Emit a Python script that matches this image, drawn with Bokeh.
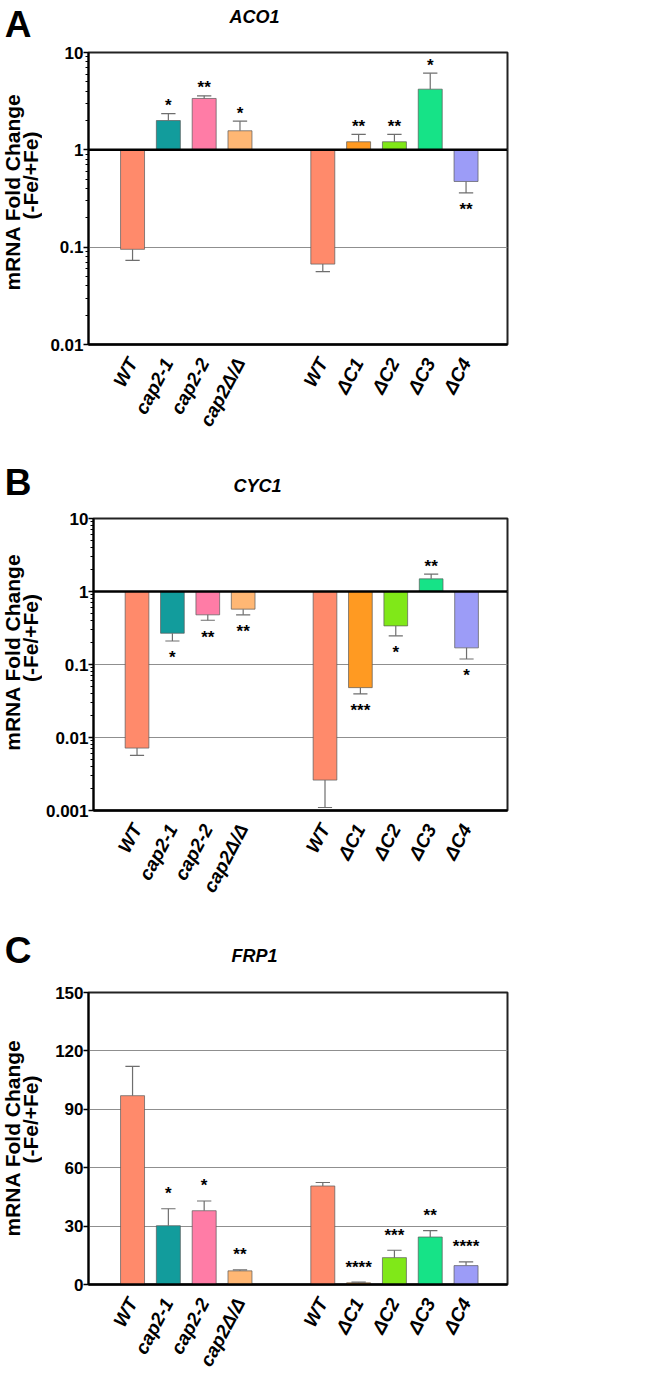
import math
from bokeh.plotting import figure
from bokeh.models import FixedTicker, NumeralTickFormatter, Span
from bokeh.layouts import column, row
from bokeh.core.properties import value
from bokeh.embed import file_html
from bokeh.resources import INLINE

# ---------------- data ----------------
strains = ["WT", "cap2-1", "cap2-2", "cap2Δ/Δ", "WT", "ΔC1", "ΔC2", "ΔC3", "ΔC4"]
bar_colors = ["#FF8A6B", "#129C9C", "#FF7CA6", "#FFB774", "#FF8A6B",
              "#FF9A22", "#80E818", "#16E387", "#9C9CF7"]

aco1_fold = [0.095, 2.0, 3.37, 1.57, 0.067, 1.21, 1.21, 4.2, 0.473]
aco1_err = [0.073, 2.36, 3.59, 1.97, 0.056, 1.44, 1.44, 6.13, 0.361]
aco1_sig = ["", "*", "**", "*", "", "**", "**", "*", "**"]

cyc1_fold = [0.00716, 0.268, 0.479, 0.573, 0.00261, 0.0482, 0.338, 1.49, 0.169]
cyc1_err = [0.0057, 0.21, 0.404, 0.479, 0.0011, 0.0395, 0.247, 1.73, 0.119]
cyc1_sig = ["", "*", "**", "**", "", "***", "*", "**", "*"]

frp1_fold = [97.0, 30.2, 37.9, 7.0, 50.6, 0.85, 13.8, 24.4, 9.7]
frp1_err = [112.1, 38.9, 42.9, 7.5, 52.4, 1.2, 17.6, 27.7, 11.6]
frp1_sig = ["", "*", "*", "**", "", "****", "***", "**", "****"]

y_title = ["mRNA Fold Change", "(-Fe/+Fe)"]

# ---------------- layout constants ----------------
FONT = "Liberation Sans"
GROUP_GAP = 1.3125
xs = [i if i < 4 else i + GROUP_GAP for i in range(len(strains))]
X0, X1 = -1.23, 10.47
BAR_W = 0.67
CAP_HW = 0.2
TOTAL_W = 650
LEFT_W = 42           # strip holding panel letter and y-axis title
FR_L, FR_R = 88, 507  # frame edges (page pixels)
MAIN_W = TOTAL_W - LEFT_W


def blank_fig(w, h):
    f = figure(width=w, height=h, x_range=(0, w), y_range=(0, h),
               output_backend="svg", toolbar_location=None,
               x_axis_location=None, y_axis_location=None, min_border=0)
    f.outline_line_color = None
    f.background_fill_color = "white"
    f.border_fill_color = "white"
    f.grid.visible = False
    return f


def make_panel(letter, gene, fold, err, sig, log, yr, top, head_h, bottom, fr_top, fr_bot,
               letter_py, title_py, yl_py, gap_above, gap_below):
    total_h = bottom - top
    # ----- left strip: panel letter + y title -----
    side = blank_fig(LEFT_W, total_h)
    side.text(x=[17.5], y=[bottom - letter_py], text=[letter], text_align="center",
              text_baseline="middle", text_font=value(FONT), text_font_style="bold",
              text_font_size="37px", text_color="black")
    side.text(x=[12, 30], y=[bottom - yl_py[0], bottom - yl_py[1]], text=y_title,
              angle=math.pi / 2, text_align="center", text_baseline="middle",
              text_font=value(FONT), text_font_style="bold", text_font_size="21px",
              text_color="black")

    # ----- header: gene name -----
    head = blank_fig(MAIN_W, head_h)
    head.text(x=[283 - LEFT_W], y=[top + head_h - title_py], text=[gene], text_align="center",
              text_baseline="middle", text_font=value(FONT), text_font_style="bold italic",
              text_font_size="18px", text_color="black")

    # ----- main plot -----
    main_top = top + head_h
    h = bottom - main_top
    y0, y1 = yr
    p = figure(width=MAIN_W, height=h, x_range=(X0, X1), y_range=(y0, y1),
               y_axis_type="log" if log else "linear", output_backend="svg",
               toolbar_location=None,
               min_border_left=FR_L - LEFT_W, min_border_right=TOTAL_W - FR_R,
               min_border_top=fr_top - main_top, min_border_bottom=bottom - fr_bot)
    p.background_fill_color = "white"
    p.border_fill_color = "white"
    p.outline_line_color = "#222222"
    p.outline_line_width = 2

    base = 1 if log else 0
    p.vbar(x=xs, width=BAR_W, top=fold, bottom=base, fill_color=bar_colors,
           line_color="#5a5a5a", line_alpha=0.7, line_width=1)
    p.segment(x0=xs, y0=fold, x1=xs, y1=err, line_color="#6e6e6e", line_width=1.2)
    p.segment(x0=[x - CAP_HW for x in xs], y0=err, x1=[x + CAP_HW for x in xs], y1=err,
              line_color="#6e6e6e", line_width=1.2)
    up = [f >= base for f in fold]
    offs = [-gap_above if u else gap_below for u in up]
    p.text(x=xs, y=err, text=sig, y_offset=offs, text_align="center",
           text_baseline="middle", text_font=value(FONT), text_font_style="bold",
           text_font_size="17px", text_color="black")

    if log:
        p.add_layout(Span(location=1, dimension="width", line_color="black", line_width=2.5))

    ax = p.xaxis[0]
    ax.ticker = FixedTicker(ticks=xs)
    ax.major_label_overrides = {x: s for x, s in zip(xs, strains)}
    ax.major_label_orientation = 1.08
    ax.major_label_text_font = FONT
    ax.major_label_text_font_style = "bold italic"
    ax.major_label_text_font_size = "19px"
    ax.major_label_text_color = "black"
    ax.major_label_standoff = 15
    ax.major_tick_out = 0
    ax.major_tick_in = 0
    ax.minor_tick_out = 0
    ax.axis_line_color = "black"
    ax.axis_line_width = 2.5

    ay = p.yaxis[0]
    if log:
        lo, hi = round(math.log10(y0)), round(math.log10(y1))
        majors = [10.0 ** k for k in range(lo, hi + 1)]
        minors = [m * 10.0 ** k for k in range(lo, hi) for m in range(2, 10)]
        ay.ticker = FixedTicker(ticks=majors, minor_ticks=minors)
        ay.formatter = NumeralTickFormatter(format="0.[000]")
        ay.minor_tick_out = 3
    else:
        ay.ticker = FixedTicker(ticks=list(range(int(y0), int(y1) + 1, 30)))
        ay.minor_tick_out = 0
    ay.minor_tick_in = 0
    ay.major_tick_out = 5
    ay.major_tick_in = 0
    ay.major_tick_line_width = 1.5
    ay.major_tick_line_color = "black"
    ay.minor_tick_line_color = "black"
    ay.axis_line_color = "black"
    ay.axis_line_width = 2
    ay.major_label_text_font = FONT
    ay.major_label_text_font_style = "bold"
    ay.major_label_text_font_size = "17px"
    ay.major_label_text_color = "black"
    ay.major_label_standoff = 0

    p.xgrid.visible = False
    p.ygrid.grid_line_color = "#8f8f8f"
    p.ygrid.grid_line_width = 1

    return row(side, column(head, p, spacing=0), spacing=0)


pA = make_panel("A", "ACO1", aco1_fold, aco1_err, aco1_sig, True, (0.01, 10),
                0, 40, 450, 52, 344, 23.5, 16.5, (191.5, 175), 8, 17)
pB = make_panel("B", "CYC1", cyc1_fold, cyc1_err, cyc1_sig, True, (0.001, 10),
                450, 50, 922, 518, 810, 481.5, 485, (651.7, 637.5), 8, 17)
pC = make_panel("C", "FRP1", frp1_fold, frp1_err, frp1_sig, False, (0, 150),
                922, 53, 1378, 992, 1284, 950, 955, (1137.5, 1119), 15, 17)

layout = column(pA, pB, pC, spacing=0)
open("out.html", "w").write(file_html(layout, INLINE))
